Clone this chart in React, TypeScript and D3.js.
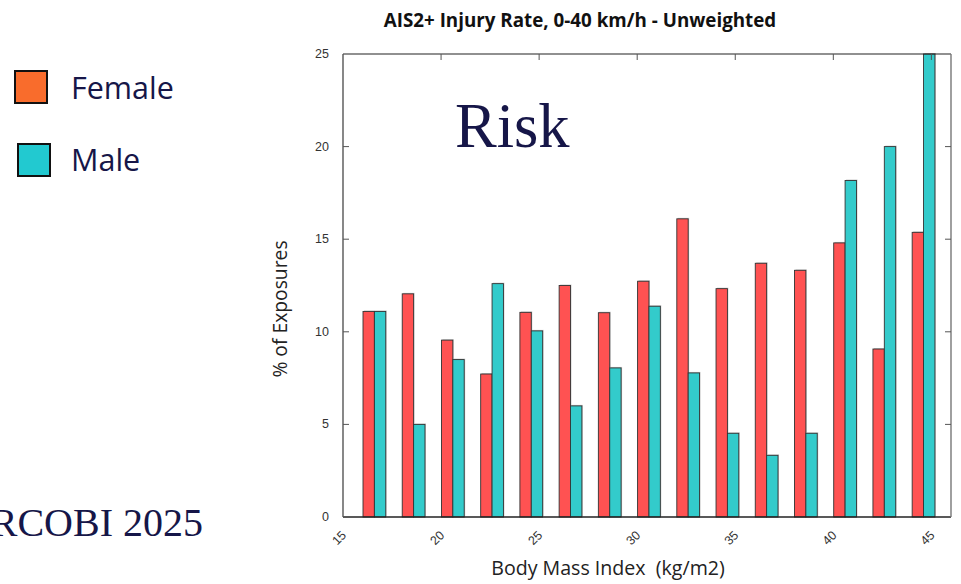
import React from "react";
import * as d3 from "d3";

const bmiCenters = [16.6, 18.6, 20.6, 22.6, 24.6, 26.6, 28.6, 30.6, 32.6, 34.6, 36.6, 38.6, 40.6, 42.6, 44.6];
const femaleRate = [11.1, 12.05, 9.55, 7.72, 11.05, 12.5, 11.03, 12.73, 16.1, 12.33, 13.7, 13.32, 14.8, 9.07, 15.37];
const maleRate = [11.1, 5.0, 8.5, 12.6, 10.05, 6.0, 8.05, 11.38, 7.78, 4.52, 3.33, 4.52, 18.17, 20.0, 25.0];
const xTicks = [15, 20, 25, 30, 35, 40, 45];
const yTicks = [0, 5, 10, 15, 20, 25];
const legendLabels = ["Female", "Male"];

const W = 961;
const H = 584;
const plot = { left: 343, right: 951, top: 54, bottom: 517 };
const barHalf = 0.58;

export default function App() {
  const x = d3.scaleLinear().domain([15, 46]).range([plot.left, plot.right]);
  const y = d3.scaleLinear().domain([0, 25]).range([plot.bottom, plot.top]);
  const navy = "#161648";
  const femaleFill = "#FF5252";
  const maleFill = "#33CBCB";
  const sans = "'Open Sans', sans-serif";
  const arial = "'Liberation Sans', Arial, sans-serif";
  const serif = "'Liberation Serif', serif";

  const bars: any[] = [];
  bmiCenters.forEach((c, i) => {
    const pairs = [
      { x0: x(c - barHalf), x1: x(c), v: femaleRate[i], fill: femaleFill, k: "f" },
      { x0: x(c), x1: x(c + barHalf), v: maleRate[i], fill: maleFill, k: "m" },
    ];
    pairs.forEach((p) => {
      const top = y(p.v);
      bars.push(
        <g key={p.k + i}>
          <rect x={p.x0 + 1} y={top - 1} width={p.x1 - p.x0} height={plot.bottom - top} fill="#aaaaaa" opacity={0.6} />
          <rect x={p.x0} y={top} width={p.x1 - p.x0} height={plot.bottom - top} fill={p.fill} stroke="#333" strokeWidth={0.9} />
        </g>
      );
    });
  });

  return (
    <svg width={W} height={H} style={{ position: "fixed", left: 0, top: 0, background: "#fff" }}>
      <rect x={0} y={0} width={W} height={H} fill="#fff" />
      {/* Legend */}
      <rect x={15} y={71} width={32} height={32} fill="#F96C2C" stroke="#111" strokeWidth={2} />
      <text x={71} y={99} fontFamily={sans} fontSize={30.5} fill={navy}>{legendLabels[0]}</text>
      <rect x={18} y={144} width={32} height={32} fill="#22C9D0" stroke="#111" strokeWidth={2} />
      <text x={71} y={171} fontFamily={sans} fontSize={30.5} fill={navy}>{legendLabels[1]}</text>

      {/* IRCOBI footer */}
      <text x={203} y={536} textAnchor="end" fontFamily={serif} fontSize={40} fill={navy}>IRCOBI 2025</text>

      {/* Title */}
      <text x={580} y={27} textAnchor="middle" fontFamily={sans} fontWeight={700} fontSize={18.8} fill="#111">
        AIS2+ Injury Rate, 0-40 km/h - Unweighted
      </text>

      {/* Bars */}
      {bars}

      {/* Frame */}
      <line x1={plot.left} x2={plot.right} y1={plot.top} y2={plot.top} stroke="#222" strokeWidth={1.2} />
      <line x1={plot.left} x2={plot.right} y1={plot.bottom} y2={plot.bottom} stroke="#222" strokeWidth={1.4} />
      <line x1={plot.left} x2={plot.left} y1={plot.top} y2={plot.bottom} stroke="#555" strokeWidth={1.4} />
      <line x1={plot.right} x2={plot.right} y1={plot.top} y2={plot.bottom} stroke="#777" strokeWidth={1.4} />

      {/* Y ticks */}
      {yTicks.map((t) => (
        <g key={"y" + t}>
          {t > 0 && t < 25 && (
            <>
              <line x1={plot.left} x2={plot.left + 6} y1={y(t)} y2={y(t)} stroke="#555" strokeWidth={1} />
              <line x1={plot.right} x2={plot.right - 6} y1={y(t)} y2={y(t)} stroke="#555" strokeWidth={1} />
            </>
          )}
          <text x={329} y={y(t) + 4} textAnchor="end" fontFamily={arial} fontSize={12.5} fill="#333">{t}</text>
        </g>
      ))}

      {/* X ticks */}
      {xTicks.map((t) => (
        <g key={"x" + t}>
          {t > 15 && (
            <line x1={x(t)} x2={x(t)} y1={plot.top} y2={plot.top + 6} stroke="#555" strokeWidth={1} />
          )}
          <text
            transform={`translate(${x(t) + 4},${plot.bottom + 19}) rotate(-45)`}
            textAnchor="end"
            fontFamily={arial}
            fontSize={12.5}
            fill="#333"
          >
            {t}
          </text>
        </g>
      ))}

      {/* Axis labels */}
      <text x={608} y={575} textAnchor="middle" fontFamily={sans} fontSize={19.6} fill="#222" style={{ whiteSpace: "pre" }}>
        {"Body Mass Index  (kg/m2)"}
      </text>
      <text
        transform={`translate(287,309) rotate(-90)`}
        textAnchor="middle"
        fontFamily={sans}
        fontSize={19.3}
        fill="#222"
      >
        % of Exposures
      </text>

      {/* Risk */}
      <text x={455} y={147} fontFamily={serif} fontSize={62.5} fill={navy}>Risk</text>
    </svg>
  );
}
